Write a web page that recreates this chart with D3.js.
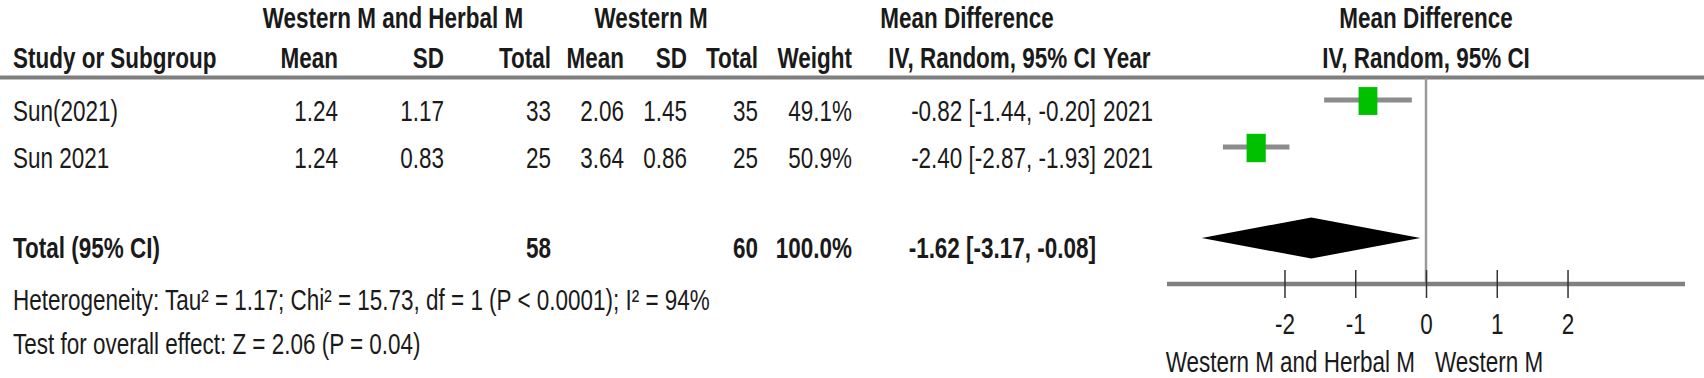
<!DOCTYPE html>
<html>
<head>
<meta charset="utf-8">
<script src="https://cdn.jsdelivr.net/npm/d3@7"></script>
<style>
  html, body { margin: 0; padding: 0; background: #fff; }
  svg text { font-family: "Liberation Sans", Arial, sans-serif; font-size: 29px; fill: #1a1a1a; }
</style>
</head>
<body>
<div id="forest"></div>
<script>
// study rows
var studies = ["Sun(2021)", "Sun 2021"];
var expMean = [1.24, 1.24];
var expSD = [1.17, 0.83];
var expN = [33, 25];
var ctlMean = [2.06, 3.64];
var ctlSD = [1.45, 0.86];
var ctlN = [35, 25];
var weights = [49.1, 50.9];
var md = [-0.82, -2.40];
var ciLow = [-1.44, -2.87];
var ciHigh = [-0.20, -1.93];
var years = [2021, 2021];

// pooled result
var totalExpN = 58, totalCtlN = 60, totalWeight = 100.0;
var totalMD = -1.62, totalLow = -3.17, totalHigh = -0.08;

var ticks = [-2, -1, 0, 1, 2];
var expLabel = "Western M and Herbal M", ctlLabel = "Western M";
var heterogeneity = "Heterogeneity: Tau\u00b2 = 1.17; Chi\u00b2 = 15.73, df = 1 (P < 0.0001); I\u00b2 = 94%";
var overallEffect = "Test for overall effect: Z = 2.06 (P = 0.04)";

var width = 1704, height = 378;
var SX = 0.775; // the text in the picture is narrow

// column anchors (right edges unless said)
var col = {study: 13, expMean: 338, expSD: 444, expN: 551, ctlMean: 624, ctlSD: 687,
           ctlN: 758, weight: 852, ci: 1096, year: 1103};

// plain hyphen for negatives, like RevMan
var locale = d3.formatLocale({decimal: ".", thousands: ",", grouping: [3], currency: ["", ""], minus: "-"});
var f2 = locale.format(".2f"), f1 = locale.format(".1f");

var svg = d3.select("#forest").append("svg")
    .attr("width", width)
    .attr("height", height);

function txt(x, y, s, anchor, bold) {
  return svg.append("text")
    .attr("transform", "translate(" + x + "," + y + ") scale(" + SX + ",1)")
    .attr("text-anchor", anchor || "end")
    .style("font-weight", bold ? 700 : 400)
    .text(s);
}

var xScale = d3.scaleLinear()
    .domain([-3.66, 3.66])
    .range([1167, 1685]);

var rowY = function(i) { return 100 + 47 * i; };
var totalY = 238, axisY = 284;

// headers
txt(393, 28, expLabel, "middle", true);
txt(651, 28, ctlLabel, "middle", true);
txt(967, 28, "Mean Difference", "middle", true);
txt(xScale(0), 28, "Mean Difference", "middle", true);

txt(col.study, 68, "Study or Subgroup", "start", true);
txt(col.expMean, 68, "Mean", "end", true);
txt(col.expSD, 68, "SD", "end", true);
txt(col.expN, 68, "Total", "end", true);
txt(col.ctlMean, 68, "Mean", "end", true);
txt(col.ctlSD, 68, "SD", "end", true);
txt(col.ctlN, 68, "Total", "end", true);
txt(col.weight, 68, "Weight", "end", true);
txt(col.ci, 68, "IV, Random, 95% CI", "end", true);
txt(col.year, 68, "Year", "start", true);
txt(xScale(0), 68, "IV, Random, 95% CI", "middle", true);

svg.append("line")
    .attr("x1", 0).attr("x2", width)
    .attr("y1", 77.5).attr("y2", 77.5)
    .attr("stroke", "#7f7f7f")
    .attr("stroke-width", 4);

// zero line
svg.append("line")
    .attr("x1", xScale(0)).attr("x2", xScale(0))
    .attr("y1", 78).attr("y2", axisY)
    .attr("stroke", "#999")
    .attr("stroke-width", 2.5);

// study rows
studies.forEach(function(s, i) {
  var y = rowY(i) + 21;
  txt(col.study, y, s, "start");
  txt(col.expMean, y, f2(expMean[i]));
  txt(col.expSD, y, f2(expSD[i]));
  txt(col.expN, y, expN[i]);
  txt(col.ctlMean, y, f2(ctlMean[i]));
  txt(col.ctlSD, y, f2(ctlSD[i]));
  txt(col.ctlN, y, ctlN[i]);
  txt(col.weight, y, f1(weights[i]) + "%");
  txt(col.ci, y, f2(md[i]) + " [" + f2(ciLow[i]) + ", " + f2(ciHigh[i]) + "]");
  txt(col.year, y, years[i], "start");
});

svg.selectAll(".ci")
    .data(studies)
    .enter().append("line")
    .attr("class", "ci")
    .attr("x1", function(d, i) { return xScale(ciLow[i]); })
    .attr("x2", function(d, i) { return xScale(ciHigh[i]); })
    .attr("y1", function(d, i) { return rowY(i); })
    .attr("y2", function(d, i) { return rowY(i); })
    .attr("stroke", "#8c8c8c")
    .attr("stroke-width", 5);

// square size follows weight
var boxW = d3.scaleSqrt().domain([0, 50]).range([0, 19]);
svg.selectAll(".box")
    .data(studies)
    .enter().append("rect")
    .attr("class", "box")
    .attr("x", function(d, i) { return xScale(md[i]) - boxW(weights[i]) / 2; })
    .attr("y", function(d, i) { return rowY(i) + 1 - boxW(weights[i]) * 0.74; })
    .attr("width", function(d, i) { return boxW(weights[i]); })
    .attr("height", function(d, i) { return boxW(weights[i]) * 1.48; })
    .attr("fill", "#00c000");

// total row
txt(col.study, totalY + 20, "Total (95% CI)", "start", true);
txt(col.expN, totalY + 20, totalExpN, "end", true);
txt(col.ctlN, totalY + 20, totalCtlN, "end", true);
txt(col.weight, totalY + 20, f1(totalWeight) + "%", "end", true);
txt(col.ci, totalY + 20, f2(totalMD) + " [" + f2(totalLow) + ", " + f2(totalHigh) + "]", "end", true);

svg.append("path")
    .datum([totalLow, totalMD, totalHigh])
    .attr("d", function(d) {
      return "M" + xScale(d[0]) + "," + totalY +
             "L" + xScale(d[1]) + "," + (totalY - 20.5) +
             "L" + xScale(d[2]) + "," + totalY +
             "L" + xScale(d[1]) + "," + (totalY + 20.5) + "Z";
    })
    .attr("fill", "#000");

txt(13, 310, heterogeneity, "start");
txt(13, 354, overallEffect, "start");

// axis
svg.append("line")
    .attr("x1", xScale.range()[0]).attr("x2", xScale.range()[1])
    .attr("y1", axisY).attr("y2", axisY)
    .attr("stroke", "#808080")
    .attr("stroke-width", 4.5);

var axis = svg.append("g")
    .attr("transform", "translate(0," + (axisY - 14) + ")")
    .call(d3.axisBottom(xScale).tickValues(ticks).tickSizeInner(28).tickSizeOuter(0).tickPadding(15)
      .tickFormat(locale.format("d")));
axis.select(".domain").remove();
axis.selectAll(".tick line").attr("stroke", "#333").attr("stroke-width", 1.5);
axis.selectAll(".tick text")
    .attr("transform", "scale(" + SX + ",1)")
    .style("font-size", "29px")
    .style("font-family", "\"Liberation Sans\", Arial, sans-serif")
    .attr("fill", "#1a1a1a");

txt(xScale(0) - 11, 372, expLabel, "end");
txt(xScale(0) + 9, 372, ctlLabel, "start");
</script>
</body>
</html>
